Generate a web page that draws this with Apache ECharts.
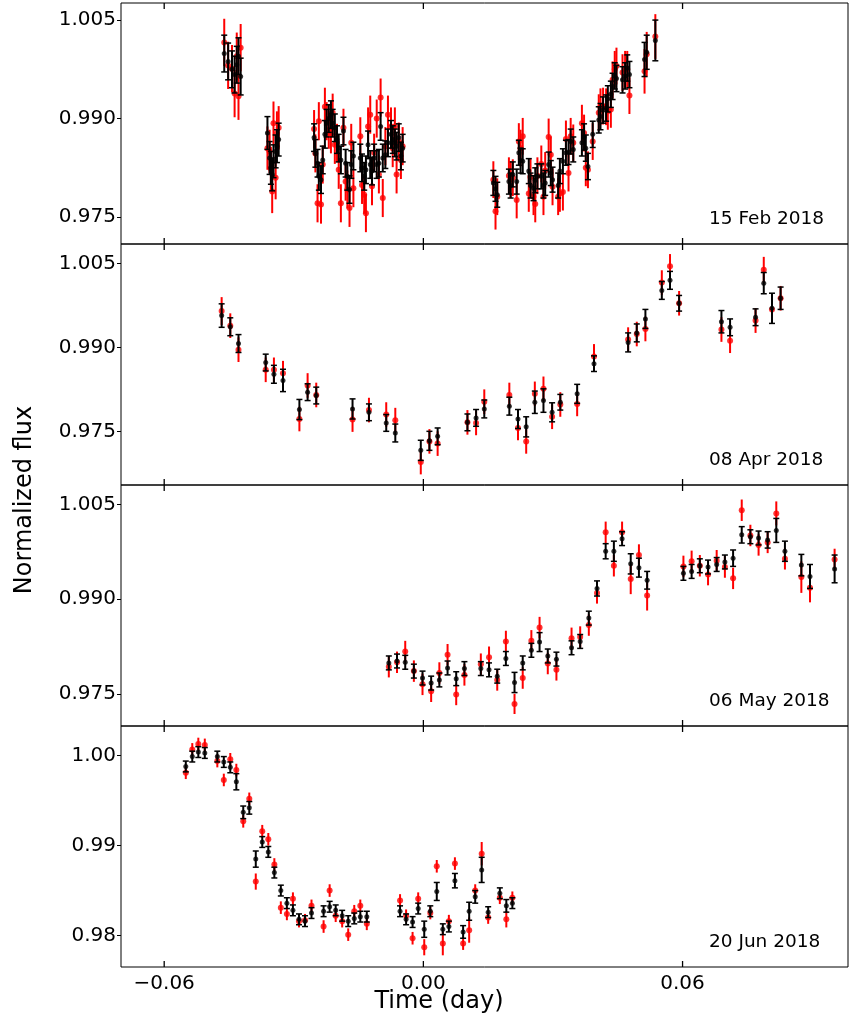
<!DOCTYPE html>
<html>
<head>
<meta charset="utf-8">
<script src="https://cdn.jsdelivr.net/npm/echarts@6/dist/echarts.min.js"></script>
<style>
html, body { margin: 0; padding: 0; background: #fff; }
#chart { width: 849px; height: 1023px; }
</style>
</head>
<body>
<div id="chart"></div>
<script>
// ---- 15 Feb 2018 ----
const febTime = [
  -0.0461, -0.0452, -0.0443, -0.0437, -0.0432, -0.0428, -0.0423,
  -0.0361, -0.0356, -0.0353, -0.0350, -0.0347, -0.0342, -0.0339, -0.0335,
  -0.0253, -0.0250, -0.0245, -0.0242, -0.0237, -0.0233, -0.0228, -0.0224, -0.0219, -0.0214,
  -0.0210, -0.0205, -0.0200, -0.0196, -0.0191, -0.0185, -0.0180, -0.0176, -0.0171, -0.0167,
  -0.0162, -0.0146, -0.0142, -0.0137, -0.0133, -0.0128, -0.0123, -0.0119, -0.0114, -0.0108,
  -0.0103, -0.0099, -0.0094, -0.0088, -0.0082, -0.0075, -0.0071, -0.0066, -0.0062, -0.0057,
  -0.0052, -0.0048,
  0.0162, 0.0167, 0.0171, 0.0198, 0.0202, 0.0207, 0.0216, 0.0221, 0.0225, 0.0230,
  0.0244, 0.0248, 0.0255, 0.0259, 0.0264, 0.0273, 0.0278, 0.0282, 0.0290, 0.0295,
  0.0299, 0.0312, 0.0316, 0.0323, 0.0330, 0.0336, 0.0341, 0.0347,
  0.0367, 0.0372, 0.0376, 0.0381, 0.0392, 0.0406, 0.0410, 0.0416, 0.0423, 0.0427,
  0.0434, 0.0438, 0.0443, 0.0447, 0.0461, 0.0467, 0.0472, 0.0477, 0.0512, 0.0517, 0.0537
]
const febBlack = [
  0.9999, 0.9987, 0.9975, 0.9967, 0.9982, 0.9995, 0.9964,
  0.9878, 0.9840, 0.9825, 0.9815, 0.9835, 0.9850, 0.9858, 0.9868,
  0.9871, 0.9847, 0.9832, 0.9812, 0.9807, 0.9837, 0.9876, 0.9893, 0.9900, 0.9906,
  0.9893, 0.9886, 0.9868, 0.9855, 0.9837, 0.9881, 0.9832, 0.9812, 0.9792, 0.9830,
  0.9843, 0.9840, 0.9825, 0.9812, 0.9822, 0.9860, 0.9830, 0.9820, 0.9840, 0.9830,
  0.9832, 0.9888, 0.9840, 0.9845, 0.9863, 0.9876, 0.9868, 0.9863, 0.9858, 0.9871,
  0.9843, 0.9855,
  0.9802, 0.9793, 0.9784, 0.9804, 0.9798, 0.9815, 0.9804, 0.9848, 0.9836, 0.9835,
  0.9820, 0.9798, 0.9794, 0.9806, 0.9812, 0.9812, 0.9798, 0.9802, 0.9830, 0.9817,
  0.9807, 0.9798, 0.9820, 0.9835, 0.9848, 0.9849, 0.9865, 0.9853,
  0.9863, 0.9872, 0.9855, 0.9827, 0.9876, 0.9898, 0.9903, 0.9913, 0.9916, 0.9930,
  0.9937, 0.9949, 0.9965, 0.9961, 0.9959, 0.9965, 0.9977, 0.9967, 0.9990, 1.0001, 1.0019
]
const febBlackErr = [
  0.0028, 0.0028, 0.0028, 0.0028, 0.0028, 0.0028, 0.0028,
  0.0025, 0.0025, 0.0025, 0.0025, 0.0025, 0.0025, 0.0025, 0.0025,
  0.0021, 0.0021, 0.0021, 0.0021, 0.0021, 0.0021, 0.0021, 0.0021, 0.0021, 0.0021,
  0.0021, 0.0021, 0.0021, 0.0021, 0.0021, 0.0021, 0.0021, 0.0021, 0.0021, 0.0021,
  0.0021, 0.0021, 0.0021, 0.0021, 0.0021, 0.0021, 0.0021, 0.0021, 0.0021, 0.0021,
  0.0021, 0.0021, 0.0021, 0.0021, 0.0021, 0.0021, 0.0021, 0.0021, 0.0021, 0.0021,
  0.0021, 0.0021,
  0.0019, 0.0019, 0.0019, 0.0019, 0.0019, 0.0019, 0.0019, 0.0019, 0.0019, 0.0019,
  0.0019, 0.0019, 0.0019, 0.0019, 0.0019, 0.0019, 0.0019, 0.0019, 0.0019, 0.0019,
  0.0019, 0.0019, 0.0019, 0.0019, 0.0019, 0.0019, 0.0019, 0.0019,
  0.0020, 0.0020, 0.0020, 0.0020, 0.0020, 0.0020, 0.0020, 0.0020, 0.0020, 0.0020,
  0.0020, 0.0020, 0.0020, 0.0020, 0.0020, 0.0020, 0.0020, 0.0020, 0.0026, 0.0026, 0.0031
]
const febRed = [
  1.0016, 0.9981, 0.9976, 0.9938, 0.9995, 0.9934, 1.0008,
  0.9855, 0.9850, 0.9824, 0.9789, 0.9893, 0.9810, 0.9878, 0.9886,
  0.9884, 0.9847, 0.9771, 0.9896, 0.9769, 0.9830, 0.9918, 0.9896, 0.9883, 0.9876,
  0.9909, 0.9860, 0.9863, 0.9822, 0.9771, 0.9886, 0.9804, 0.9792, 0.9764, 0.9863,
  0.9794, 0.9873, 0.9799, 0.9784, 0.9756, 0.9888, 0.9906, 0.9797, 0.9848, 0.9900,
  0.9815, 0.9932, 0.9779, 0.9858, 0.9906, 0.9888, 0.9855, 0.9888, 0.9815, 0.9865,
  0.9837, 0.9858,
  0.9807, 0.9759, 0.9781, 0.9813, 0.9807, 0.9810, 0.9776, 0.9865, 0.9855, 0.9873,
  0.9786, 0.9811, 0.9781, 0.9770, 0.9813, 0.9831, 0.9781, 0.9821, 0.9872, 0.9845,
  0.9796, 0.9781, 0.9786, 0.9788, 0.9869, 0.9817, 0.9873, 0.9863,
  0.9893, 0.9878, 0.9825, 0.9822, 0.9865, 0.9909, 0.9918, 0.9919, 0.9918, 0.9911,
  0.9914, 0.9959, 0.9975, 0.9980, 0.9970, 0.9975, 0.9975, 0.9935, 0.9972, 0.9998, 1.0025
]
const febRedErr = [
  0.0036, 0.0036, 0.0036, 0.0036, 0.0036, 0.0036, 0.0036,
  0.0033, 0.0033, 0.0033, 0.0033, 0.0033, 0.0033, 0.0033, 0.0033,
  0.0029, 0.0029, 0.0029, 0.0029, 0.0029, 0.0029, 0.0029, 0.0029, 0.0029, 0.0029,
  0.0029, 0.0029, 0.0029, 0.0029, 0.0029, 0.0029, 0.0029, 0.0029, 0.0029, 0.0029,
  0.0029, 0.0029, 0.0029, 0.0029, 0.0029, 0.0029, 0.0029, 0.0029, 0.0029, 0.0029,
  0.0029, 0.0029, 0.0029, 0.0029, 0.0029, 0.0029, 0.0029, 0.0029, 0.0029, 0.0029,
  0.0029, 0.0029,
  0.0028, 0.0028, 0.0028, 0.0028, 0.0028, 0.0028, 0.0028, 0.0028, 0.0028, 0.0028,
  0.0028, 0.0028, 0.0028, 0.0028, 0.0028, 0.0028, 0.0028, 0.0028, 0.0028, 0.0028,
  0.0028, 0.0028, 0.0028, 0.0028, 0.0028, 0.0028, 0.0028, 0.0028,
  0.0028, 0.0028, 0.0028, 0.0028, 0.0028, 0.0028, 0.0028, 0.0028, 0.0028, 0.0028,
  0.0028, 0.0028, 0.0028, 0.0028, 0.0028, 0.0028, 0.0028, 0.0028, 0.0034, 0.0034, 0.0034
]

// ---- 08 Apr 2018 ----
const aprTime = [
  -0.0467, -0.0447, -0.0428, -0.0365, -0.0346, -0.0325, -0.0287, -0.0268, -0.0248, -0.0164,
  -0.0126, -0.0086, -0.0065, -0.0006, 0.0014, 0.0033, 0.0102, 0.0122, 0.0141, 0.0199,
  0.0219, 0.0238, 0.0258, 0.0278, 0.0298, 0.0317, 0.0356, 0.0395, 0.0474, 0.0494,
  0.0514, 0.0552, 0.0571, 0.0592, 0.0690, 0.0710, 0.0769, 0.0788, 0.0807, 0.0827
]
const aprBlack = [
  0.9957, 0.9937, 0.9907, 0.9873, 0.9852, 0.9841, 0.9789, 0.9820, 0.9814, 0.9790,
  0.9784, 0.9765, 0.9747, 0.9716, 0.9733, 0.9741, 0.9766, 0.9774, 0.9790, 0.9795,
  0.9772, 0.9758, 0.9802, 0.9805, 0.9784, 0.9802, 0.9817, 0.9871, 0.9909, 0.9926,
  0.9951, 1.0002, 1.0020, 0.9979, 0.9946, 0.9936, 0.9954, 1.0015, 0.9970, 0.9988
]
const aprBlackErr = [
  0.0021, 0.0016, 0.0016, 0.0015, 0.0016, 0.0020, 0.0018, 0.0015, 0.0015, 0.0018,
  0.0015, 0.0015, 0.0016, 0.0018, 0.0017, 0.0015, 0.0015, 0.0015, 0.0016, 0.0016,
  0.0017, 0.0018, 0.0020, 0.0021, 0.0017, 0.0014, 0.0017, 0.0014, 0.0017, 0.0016,
  0.0017, 0.0016, 0.0016, 0.0014, 0.0020, 0.0015, 0.0015, 0.0019, 0.0027, 0.0020
]
const aprRed = [
  0.9965, 0.9939, 0.9896, 0.9860, 0.9860, 0.9854, 0.9772, 0.9832, 0.9815, 0.9771,
  0.9788, 0.9780, 0.9770, 0.9695, 0.9732, 0.9728, 0.9766, 0.9765, 0.9803, 0.9815,
  0.9756, 0.9732, 0.9817, 0.9826, 0.9776, 0.9798, 0.9799, 0.9884, 0.9914, 0.9924,
  0.9933, 1.0016, 1.0045, 0.9979, 0.9932, 0.9912, 0.9948, 1.0039, 0.9968, 0.9988
]
const aprRedErr = [
  0.0025, 0.0022, 0.0022, 0.0022, 0.0022, 0.0022, 0.0022, 0.0022, 0.0022, 0.0022,
  0.0022, 0.0022, 0.0022, 0.0022, 0.0022, 0.0022, 0.0022, 0.0022, 0.0022, 0.0022,
  0.0022, 0.0022, 0.0022, 0.0022, 0.0022, 0.0022, 0.0022, 0.0022, 0.0022, 0.0022,
  0.0022, 0.0022, 0.0022, 0.0022, 0.0022, 0.0022, 0.0022, 0.0023, 0.0022, 0.0022
]

// ---- 06 May 2018 ----
const mayTime = [
  -0.0080, -0.0061, -0.0042, -0.0022, -0.0002, 0.0018, 0.0037, 0.0056, 0.0076, 0.0095,
  0.0133, 0.0152, 0.0171, 0.0191, 0.0211, 0.0230, 0.0250, 0.0269, 0.0288, 0.0308,
  0.0343, 0.0363, 0.0383, 0.0402, 0.0422, 0.0441, 0.0460, 0.0480, 0.0499, 0.0518,
  0.0602, 0.0621, 0.0640, 0.0659, 0.0679, 0.0698, 0.0717, 0.0737, 0.0757, 0.0776,
  0.0797, 0.0817, 0.0837, 0.0875, 0.0895, 0.0952
]
const mayBlack = [
  0.9799, 0.9802, 0.9800, 0.9786, 0.9775, 0.9767, 0.9772, 0.9791, 0.9774, 0.9790,
  0.9790, 0.9788, 0.9778, 0.9806, 0.9768, 0.9799, 0.9819, 0.9832, 0.9810, 0.9805,
  0.9823, 0.9833, 0.9870, 0.9917, 0.9976, 0.9976, 0.9996, 0.9956, 0.9950, 0.9930,
  0.9941, 0.9944, 0.9953, 0.9951, 0.9955, 0.9959, 0.9965, 1.0002, 0.9999, 0.9997,
  0.9994, 1.0009, 0.9976, 0.9954, 0.9936, 0.9948
]
const mayBlackErr = [
  0.0011, 0.0011, 0.0011, 0.0011, 0.0011, 0.0011, 0.0011, 0.0011, 0.0011, 0.0011,
  0.0011, 0.0011, 0.0011, 0.0011, 0.0016, 0.0011, 0.0011, 0.0015, 0.0011, 0.0011,
  0.0011, 0.0011, 0.0011, 0.0012, 0.0012, 0.0016, 0.0011, 0.0016, 0.0015, 0.0014,
  0.0011, 0.0011, 0.0011, 0.0011, 0.0011, 0.0011, 0.0013, 0.0013, 0.0011, 0.0011,
  0.0013, 0.0019, 0.0016, 0.0017, 0.0019, 0.0022
]
const mayRed = [
  0.9793, 0.9800, 0.9817, 0.9786, 0.9765, 0.9754, 0.9783, 0.9812, 0.9749, 0.9780,
  0.9797, 0.9808, 0.9772, 0.9833, 0.9734, 0.9775, 0.9834, 0.9855, 0.9798, 0.9788,
  0.9838, 0.9840, 0.9859, 0.9910, 1.0006, 0.9953, 1.0006, 0.9932, 0.9970, 0.9906,
  0.9952, 0.9960, 0.9953, 0.9939, 0.9961, 0.9951, 0.9933, 1.0041, 1.0001, 0.9986,
  0.9990, 1.0036, 0.9964, 0.9935, 0.9918, 0.9963
]
const mayRedErr = [
  0.0017, 0.0017, 0.0017, 0.0017, 0.0017, 0.0017, 0.0017, 0.0017, 0.0017, 0.0017,
  0.0017, 0.0017, 0.0017, 0.0017, 0.0016, 0.0017, 0.0017, 0.0017, 0.0017, 0.0017,
  0.0017, 0.0017, 0.0017, 0.0017, 0.0017, 0.0017, 0.0017, 0.0024, 0.0017, 0.0024,
  0.0017, 0.0017, 0.0017, 0.0017, 0.0017, 0.0017, 0.0017, 0.0017, 0.0017, 0.0017,
  0.0017, 0.0019, 0.0017, 0.0025, 0.0023, 0.0017
]

// ---- 20 Jun 2018 ----
const junTime = [
  -0.0550, -0.0535, -0.0521, -0.0506, -0.0477, -0.0462, -0.0447, -0.0433, -0.0417, -0.0403,
  -0.0388, -0.0373, -0.0359, -0.0345, -0.0330, -0.0316, -0.0302, -0.0288, -0.0274, -0.0259,
  -0.0231, -0.0217, -0.0203, -0.0188, -0.0174, -0.0160, -0.0146, -0.0131, -0.0054, -0.0040,
  -0.0025, -0.0012, 0.0002, 0.0016, 0.0031, 0.0045, 0.0059, 0.0073, 0.0092, 0.0106,
  0.0120, 0.0135, 0.0150, 0.0177, 0.0192, 0.0206
]
const junBlack = [
  0.9988, 0.9999, 1.0004, 1.0003, 0.9999, 0.9993, 0.9987, 0.9971, 0.9937, 0.9942,
  0.9885, 0.9904, 0.9893, 0.9870, 0.9850, 0.9836, 0.9828, 0.9818, 0.9816, 0.9825,
  0.9827, 0.9832, 0.9828, 0.9822, 0.9816, 0.9819, 0.9821, 0.9821, 0.9827, 0.9818,
  0.9815, 0.9830, 0.9807, 0.9827, 0.9849, 0.9807, 0.9810, 0.9861, 0.9804, 0.9827,
  0.9843, 0.9873, 0.9826, 0.9847, 0.9833, 0.9836
]
const junBlackErr = [
  0.0006, 0.0006, 0.0006, 0.0006, 0.0006, 0.0006, 0.0006, 0.0009, 0.0007, 0.0007,
  0.0009, 0.0006, 0.0006, 0.0006, 0.0006, 0.0006, 0.0006, 0.0006, 0.0006, 0.0006,
  0.0006, 0.0006, 0.0006, 0.0006, 0.0006, 0.0006, 0.0006, 0.0006, 0.0006, 0.0006,
  0.0006, 0.0006, 0.0009, 0.0006, 0.0010, 0.0006, 0.0006, 0.0008, 0.0007, 0.0010,
  0.0007, 0.0014, 0.0006, 0.0006, 0.0007, 0.0006
]
const junRed = [
  0.9981, 1.0007, 1.0013, 1.0012, 0.9994, 0.9973, 0.9996, 0.9984, 0.9927, 0.9952,
  0.9860, 0.9916, 0.9907, 0.9879, 0.9831, 0.9824, 0.9841, 0.9816, 0.9817, 0.9833,
  0.9810, 0.9850, 0.9822, 0.9816, 0.9801, 0.9827, 0.9833, 0.9813, 0.9839, 0.9822,
  0.9797, 0.9841, 0.9787, 0.9825, 0.9877, 0.9791, 0.9816, 0.9880, 0.9791, 0.9806,
  0.9850, 0.9891, 0.9820, 0.9842, 0.9818, 0.9842
]
const junRedErr = [
  0.0007, 0.0007, 0.0007, 0.0007, 0.0007, 0.0007, 0.0007, 0.0007, 0.0007, 0.0007,
  0.0009, 0.0007, 0.0007, 0.0007, 0.0007, 0.0007, 0.0007, 0.0007, 0.0007, 0.0007,
  0.0007, 0.0007, 0.0007, 0.0007, 0.0007, 0.0007, 0.0007, 0.0007, 0.0007, 0.0007,
  0.0007, 0.0007, 0.0009, 0.0007, 0.0007, 0.0013, 0.0007, 0.0007, 0.0007, 0.0014,
  0.0007, 0.0013, 0.0007, 0.0007, 0.0009, 0.0007
]

const xTicks = [-0.06, 0, 0.06]
const yTicks3 = [0.975, 0.990, 1.005]
const yTicks4 = [0.98, 0.99, 1.00]

const panels = [
  { date: '15 Feb 2018', t: febTime, black: febBlack, blackErr: febBlackErr, red: febRed, redErr: febRedErr, yMin: 0.9709, yMax: 1.0076, ticks: yTicks3, digits: 3 },
  { date: '08 Apr 2018', t: aprTime, black: aprBlack, blackErr: aprBlackErr, red: aprRed, redErr: aprRedErr, yMin: 0.9654, yMax: 1.0085, ticks: yTicks3, digits: 3 },
  { date: '06 May 2018', t: mayTime, black: mayBlack, blackErr: mayBlackErr, red: mayRed, redErr: mayRedErr, yMin: 0.9699, yMax: 1.0081, ticks: yTicks3, digits: 3 },
  { date: '20 Jun 2018', t: junTime, black: junBlack, blackErr: junBlackErr, red: junRed, redErr: junRedErr, yMin: 0.9765, yMax: 1.0033, ticks: yTicks4, digits: 2 }
]

const FONT = '"DejaVu Sans", sans-serif'
const xMin = -0.0700
const xMax = 0.0983
const gridTops = [3, 244, 485, 726]
const gridH = 241
const TICK_PX = 6

function fmtX (v) {
  const s = Math.abs(v).toFixed(2)
  return v < -1e-9 ? '\u2212' + s : s
}

// vertical segment between two y values, optional caps (error bars and x ticks)
function segment (color, lineWidth, capHalf) {
  return function (params, api) {
    const x = api.value(0)
    const lo = api.coord([x, api.value(1)])
    const hi = api.coord([x, api.value(2)])
    const children = [{ type: 'line', shape: { x1: lo[0], y1: lo[1], x2: hi[0], y2: hi[1] }, style: { stroke: color, lineWidth: lineWidth } }]
    if (capHalf) {
      children.push({ type: 'line', shape: { x1: lo[0] - capHalf, y1: lo[1], x2: lo[0] + capHalf, y2: lo[1] }, style: { stroke: color, lineWidth: 1.5 } })
      children.push({ type: 'line', shape: { x1: hi[0] - capHalf, y1: hi[1], x2: hi[0] + capHalf, y2: hi[1] }, style: { stroke: color, lineWidth: 1.5 } })
    }
    return { type: 'group', children: children }
  }
}

const grid = []
const xAxis = []
const yAxis = []
const series = []
const graphic = []

panels.forEach((p, i) => {
  grid.push({
    left: 121, right: 1, top: gridTops[i], height: gridH,
    show: true, borderColor: '#000', borderWidth: 1, backgroundColor: 'transparent'
  })
  xAxis.push({
    gridIndex: i, type: 'value', min: xMin, max: xMax, position: 'bottom',
    axisLine: { show: false, onZero: false },
    splitLine: { show: false },
    axisTick: { show: false },
    axisLabel: {
      show: i === 3, customValues: xTicks, formatter: fmtX,
      margin: 7, fontSize: 20, color: '#000', fontFamily: FONT
    }
  })
  yAxis.push({
    gridIndex: i, type: 'value', min: p.yMin, max: p.yMax, position: 'left',
    axisLine: { show: false, onZero: false },
    splitLine: { show: false },
    axisTick: { show: true, inside: false, length: 4, customValues: p.ticks, lineStyle: { color: '#000', width: 1 } },
    axisLabel: {
      customValues: p.ticks, formatter: v => v.toFixed(p.digits),
      margin: 5, fontSize: 20, color: '#000', fontFamily: FONT
    }
  })

  const redBars = p.t.map((t, k) => [t, p.red[k] - p.redErr[k], p.red[k] + p.redErr[k]])
  const blackBars = p.t.map((t, k) => [t, p.black[k] - p.blackErr[k], p.black[k] + p.blackErr[k]])
  // inward x ticks: a few pixels up from the bottom edge and down from the top edge
  const dy = (p.yMax - p.yMin) * TICK_PX / gridH
  const tickSegs = []
  xTicks.forEach(v => {
    tickSegs.push([v, p.yMin, p.yMin + dy])
    tickSegs.push([v, p.yMax - dy, p.yMax])
  })

  series.push({
    type: 'custom', xAxisIndex: i, yAxisIndex: i, z: 1,
    renderItem: segment('#ff0000', 2, 0), encode: { x: 0, y: [1, 2] }, data: redBars, silent: true
  })
  series.push({
    type: 'scatter', xAxisIndex: i, yAxisIndex: i, z: 2,
    symbol: 'circle', symbolSize: 6, itemStyle: { color: '#ff0000' },
    data: p.t.map((t, k) => [t, p.red[k]]), silent: true
  })
  series.push({
    type: 'custom', xAxisIndex: i, yAxisIndex: i, z: 3,
    renderItem: segment('#000000', 2, 3), encode: { x: 0, y: [1, 2] }, data: blackBars, silent: true
  })
  series.push({
    type: 'scatter', xAxisIndex: i, yAxisIndex: i, z: 4,
    symbol: 'circle', symbolSize: 5, itemStyle: { color: '#000000' },
    data: p.t.map((t, k) => [t, p.black[k]]), silent: true
  })
  series.push({
    type: 'custom', xAxisIndex: i, yAxisIndex: i, z: 5,
    renderItem: segment('#000000', 1.3, 0), encode: { x: 0, y: [1, 2] }, data: tickSegs, silent: true
  })

  graphic.push({
    type: 'text', x: 709, y: gridTops[i] + gridH - 25,
    style: { text: p.date, font: '18.5px ' + FONT, fill: '#000', align: 'left', verticalAlign: 'middle' }
  })
})

graphic.push({
  type: 'text', x: 439, y: 1002,
  style: { text: 'Time (day)', font: '24px ' + FONT, fill: '#000', align: 'center', verticalAlign: 'middle' }
})
graphic.push({
  type: 'text', x: 25, y: 500, rotation: Math.PI / 2,
  style: { text: 'Normalized flux', font: '24px ' + FONT, fill: '#000', align: 'center', verticalAlign: 'middle' }
})

const chart = echarts.init(document.getElementById('chart'), null, { renderer: 'canvas' })
chart.setOption({
  animation: false,
  backgroundColor: '#fff',
  grid: grid,
  xAxis: xAxis,
  yAxis: yAxis,
  series: series,
  graphic: graphic
})
</script>
</body>
</html>
